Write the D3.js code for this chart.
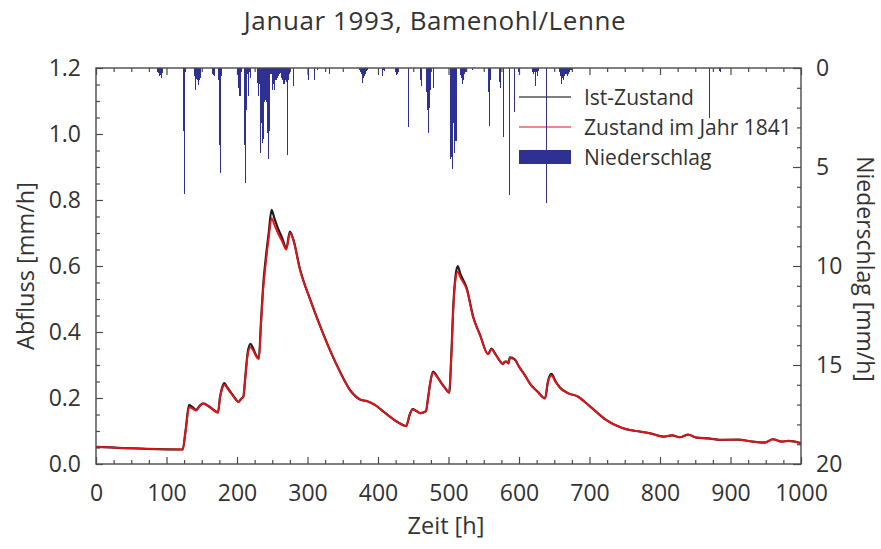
<!DOCTYPE html>
<html>
<head>
<meta charset="utf-8">
<script src="https://cdn.jsdelivr.net/npm/d3@7"></script>
<style>
  body { margin: 0; background: #fff; }
  svg { display: block; font-family: "Open Sans", sans-serif; }
</style>
</head>
<body>
<svg id="chart" width="881" height="549"></svg>
<script>
// Runoff hydrograph, hours since start of January 1993
const hours = [0, 123, 127, 132, 137, 142, 147, 152, 160, 168, 173, 176, 179, 182, 186, 192, 197, 202, 206, 209,
  212, 215, 219, 223, 227, 231, 234, 237, 241, 245, 249, 253, 258, 264, 270, 275, 280, 289, 304, 322,
  335, 346, 360, 375, 385, 395, 410, 431, 440, 445, 449, 455, 460, 468, 471, 474, 478, 484, 490, 496,
  501, 504, 507, 510, 513, 517, 526, 535, 545, 556, 561, 566, 572, 577, 580, 583, 585, 587, 594, 600,
  608, 616, 626, 637, 641, 646, 652, 658, 670, 682, 701, 724, 753, 772, 786, 805, 817, 828, 840, 852,
  871, 885, 911, 928, 949, 960, 973, 982, 1000];

// Abfluss [mm/h], present-day land use
const istZustand = [0.052, 0.044, 0.100, 0.179, 0.172, 0.164, 0.176, 0.184, 0.175, 0.162, 0.156, 0.204, 0.232, 0.245, 0.233, 0.215, 0.200, 0.188, 0.198, 0.204,
  0.270, 0.335, 0.364, 0.350, 0.330, 0.320, 0.430, 0.537, 0.628, 0.700, 0.770, 0.745, 0.715, 0.685, 0.654, 0.704, 0.680, 0.593, 0.497, 0.396,
  0.330, 0.280, 0.225, 0.195, 0.190, 0.180, 0.155, 0.123, 0.115, 0.150, 0.166, 0.160, 0.154, 0.160, 0.200, 0.245, 0.280, 0.265, 0.245, 0.228,
  0.216, 0.330, 0.487, 0.570, 0.600, 0.575, 0.532, 0.446, 0.390, 0.333, 0.350, 0.335, 0.315, 0.303, 0.310, 0.310, 0.305, 0.323, 0.317, 0.295,
  0.270, 0.242, 0.220, 0.199, 0.250, 0.273, 0.250, 0.232, 0.214, 0.206, 0.174, 0.133, 0.105, 0.098, 0.093, 0.083, 0.087, 0.081, 0.089, 0.080,
  0.077, 0.073, 0.074, 0.069, 0.065, 0.075, 0.068, 0.070, 0.063];

// Abfluss [mm/h], land use of 1841
const zustand1841 = [0.052, 0.044, 0.098, 0.172, 0.168, 0.162, 0.175, 0.183, 0.174, 0.161, 0.156, 0.202, 0.228, 0.240, 0.230, 0.213, 0.199, 0.188, 0.197, 0.203,
  0.265, 0.328, 0.354, 0.344, 0.327, 0.318, 0.420, 0.525, 0.612, 0.685, 0.745, 0.725, 0.700, 0.675, 0.650, 0.700, 0.678, 0.592, 0.497, 0.396,
  0.330, 0.280, 0.225, 0.195, 0.190, 0.180, 0.155, 0.123, 0.115, 0.149, 0.165, 0.160, 0.154, 0.160, 0.199, 0.243, 0.277, 0.263, 0.244, 0.227,
  0.216, 0.325, 0.478, 0.560, 0.583, 0.565, 0.528, 0.444, 0.389, 0.333, 0.348, 0.334, 0.315, 0.303, 0.309, 0.309, 0.305, 0.321, 0.316, 0.295,
  0.270, 0.242, 0.220, 0.199, 0.247, 0.268, 0.248, 0.231, 0.214, 0.206, 0.174, 0.133, 0.105, 0.098, 0.093, 0.083, 0.087, 0.081, 0.089, 0.080,
  0.077, 0.073, 0.074, 0.069, 0.065, 0.075, 0.068, 0.070, 0.063];

// Hourly precipitation [mm/h]; hours not listed had none
const rainHours = [87, 88, 89, 90, 91, 92, 93, 94,
  123, 124, 125, 126,
  139, 140, 141, 142, 143, 144, 145, 146, 147, 148,
  164, 165, 166, 167, 168,
  173, 174, 175, 176, 177,
  200, 201, 202, 203, 204, 205,
  210, 211, 212, 213, 214, 215, 216, 217, 218, 219,
  229, 230, 231, 232, 233, 234, 235, 236, 237, 238, 239, 240, 241, 242, 243, 244, 245, 246, 247, 248,
  249, 250, 251, 252, 253, 254, 255, 256, 257, 258, 259, 260, 261, 262, 263, 264, 265, 266, 267, 268,
  269, 270, 271, 272, 273, 274,
  279, 300, 301, 309, 313, 330,
  373, 374, 375, 376, 377, 378, 379, 380, 381, 382, 383, 384, 385,
  405, 407, 408,
  424, 425, 426, 427, 428, 429,
  442, 443,
  459, 460, 461,
  468, 469, 470, 471, 472, 473, 474,
  478,
  502, 503, 504, 505, 506, 507, 508, 509, 510,
  516, 517, 518, 519, 520, 521, 522, 523, 524,
  533,
  556, 557, 558, 559,
  571, 573, 578,
  586, 593, 599,
  619, 620, 621, 622, 623, 624, 625, 626, 627,
  639,
  657, 658, 659, 660, 661, 662, 663, 664, 665, 666, 667, 668, 669, 670, 671, 672, 674,
  870, 884, 885];
const rainValues = [0.2, 0.25, 0.3, 0.4, 0.35, 0.5, 0.25, 0.15,
  0.2, 3.2, 6.35, 0.2,
  0.4, 0.45, 1.1, 0.55, 0.6, 0.85, 0.8, 0.6, 0.5, 0.2,
  0.2, 0.3, 0.35, 0.4, 0.3,
  0.6, 0.8, 3.9, 5.3, 0.4,
  0.3, 0.9, 1.0, 1.4, 1.4, 0.2,
  3.9, 5.8, 2.3, 2.1, 0.3, 0.3, 1.4, 0.2, 0.5, 0.2,
  0.75, 1.4, 0.8, 3.9, 4.3, 2.8, 2.6, 3.8, 3.6, 1.7, 1.7, 1.6, 1.7, 3.3, 2.0, 4.6, 3.2, 3.0, 0.3, 0.3,
  0.5, 1.1, 0.8, 1.0, 1.1, 0.6, 0.6, 0.55, 0.5, 0.4, 0.3, 0.2, 0.25, 0.3, 0.5, 0.6, 0.8, 0.8, 0.7, 0.6,
  0.7, 0.4, 4.4, 0.6, 0.5, 0.3,
  0.9, 0.6, 0.4, 0.6, 0.1, 0.3,
  0.1, 0.15, 0.2, 0.3, 0.45, 0.75, 0.5, 0.4, 0.3, 0.2, 0.15, 0.1, 0.1,
  0.4, 0.1, 0.15,
  0.2, 0.25, 0.35, 0.3, 0.2, 0.1,
  3.0, 1.7,
  0.4, 0.6, 0.9,
  1.2, 2.1, 2.1, 3.3, 2.0, 1.2, 1.1,
  1.0,
  4.6, 4.5, 4.5, 5.1, 2.8, 2.8, 4.3, 3.7, 3.7,
  0.3, 0.35, 0.5, 0.8, 0.6, 0.4, 0.3, 0.2, 0.2,
  0.1,
  1.2, 2.95, 1.5, 0.6,
  0.7, 1.0, 3.5,
  6.4, 2.2, 0.2,
  0.2, 0.3, 0.2, 0.9, 0.3, 0.2, 0.4, 0.2, 0.15,
  6.8,
  0.2, 0.4, 0.3, 0.8, 0.5, 0.6, 0.3, 0.4, 0.3, 0.2, 0.3, 0.4, 0.2, 0.3, 0.2, 0.1, 0.1,
  2.5, 0.15, 0.2];

const timeTicks = [0, 100, 200, 300, 400, 500, 600, 700, 800, 900, 1000];
const flowTicks = [0, 0.2, 0.4, 0.6, 0.8, 1.0, 1.2];
const rainTicks = [0, 5, 10, 15, 20];
const seriesNames = ["Ist-Zustand", "Zustand im Jahr 1841", "Niederschlag"];

const svg = d3.select("#chart");
const L = 96, R = 801, T = 68, B = 464;
const ink = "#333", frameCol = "#4a4a4a";
const blue = "#2e3192", red = "#e3131b", black = "#1e1e1e";

const x = d3.scaleLinear().domain([0, 1000]).range([L, R]);
const y = d3.scaleLinear().domain([0, 1.2]).range([B, T]);
const yr = d3.scaleLinear().domain([0, 20]).range([T, B]);

// Title and axis titles
svg.append("text").attr("x", 435).attr("y", 30).attr("text-anchor", "middle")
  .attr("font-size", 26).attr("letter-spacing", 0.6).attr("fill", ink).text("Januar 1993, Bamenohl/Lenne");
svg.append("text").attr("x", 446).attr("y", 534).attr("text-anchor", "middle")
  .attr("font-size", 23.5).attr("fill", ink).text("Zeit [h]");
svg.append("text").attr("transform", `translate(34,${(T + B) / 2}) rotate(-90)`)
  .attr("text-anchor", "middle").attr("font-size", 23.5).attr("fill", ink).text("Abfluss [mm/h]");
svg.append("text").attr("transform", `translate(857,${(T + B) / 2 + 3}) rotate(90)`)
  .attr("text-anchor", "middle").attr("font-size", 23).attr("fill", ink).text("Niederschlag [mm/h]");

// Axes: major ticks with labels, minor ticks without, all pointing inward
function styleAxis(g) {
  g.select(".domain").remove();
  g.selectAll("line").attr("stroke", frameCol).attr("stroke-width", 1.2);
  g.selectAll("text").attr("fill", ink).attr("font-size", 23).attr("font-family", "Open Sans, sans-serif");
}
const minorTime = d3.range(0, 1001, 25).filter(d => d % 100 !== 0);
const minorFlow = d3.range(0, 1.2001, 0.05).filter(d => Math.abs(d * 5 - Math.round(d * 5)) > 1e-6);
const minorRain = d3.range(0, 21, 1).filter(d => d % 5 !== 0);

svg.append("g").attr("transform", `translate(0,${B})`)
  .call(d3.axisBottom(x).tickValues(timeTicks).tickSize(-7).tickPadding(21).tickFormat(d3.format("d"))).call(styleAxis);
svg.append("g").attr("transform", `translate(0,${B})`)
  .call(d3.axisBottom(x).tickValues(minorTime).tickSize(-4).tickFormat("")).call(styleAxis);
svg.append("g").attr("transform", `translate(0,${T})`)
  .call(d3.axisTop(x).tickValues(timeTicks).tickSize(-7).tickFormat("")).call(styleAxis);
svg.append("g").attr("transform", `translate(0,${T})`)
  .call(d3.axisTop(x).tickValues(minorTime).tickSize(-4).tickFormat("")).call(styleAxis);
svg.append("g").attr("transform", `translate(${L},0)`)
  .call(d3.axisLeft(y).tickValues(flowTicks).tickSize(-7).tickPadding(15).tickFormat(d3.format(".1f"))).call(styleAxis);
svg.append("g").attr("transform", `translate(${L},0)`)
  .call(d3.axisLeft(y).tickValues(minorFlow).tickSize(-4).tickFormat("")).call(styleAxis);
svg.append("g").attr("transform", `translate(${R},0)`)
  .call(d3.axisRight(yr).tickValues(rainTicks).tickSize(-8).tickPadding(15).tickFormat(d3.format("d"))).call(styleAxis);
svg.append("g").attr("transform", `translate(${R},0)`)
  .call(d3.axisRight(yr).tickValues(minorRain).tickSize(-4).tickFormat("")).call(styleAxis);

// Runoff lines
const line = d3.line().x((d, i) => x(hours[i])).y(d => y(d)).curve(d3.curveMonotoneX);
svg.append("path").datum(istZustand).attr("d", line)
  .attr("fill", "none").attr("stroke", black).attr("stroke-width", 2.2).attr("stroke-linejoin", "round");
svg.append("path").datum(zustand1841).attr("d", line)
  .attr("fill", "none").attr("stroke", red).attr("stroke-width", 1.9).attr("stroke-linejoin", "round");

// Legend
const lg = svg.append("g");
const legendY = [97, 127, 157];
lg.append("line").attr("x1", 519).attr("x2", 571).attr("y1", legendY[0]).attr("y2", legendY[0])
  .attr("stroke", "#555").attr("stroke-width", 1.5);
lg.append("line").attr("x1", 519).attr("x2", 571).attr("y1", legendY[1]).attr("y2", legendY[1])
  .attr("stroke", red).attr("stroke-width", 1.2);
lg.append("rect").attr("x", 519).attr("width", 52).attr("y", legendY[2] - 7).attr("height", 14).attr("fill", blue);
lg.selectAll("text.lbl").data(seriesNames).join("text").attr("class", "lbl")
  .attr("x", 584).attr("y", (d, i) => legendY[i] + 8)
  .attr("font-size", 21).attr("fill", ink).text(d => d);

// Precipitation bars hanging from the top axis
const barW = Math.max(1, x(1) - x(0));
svg.append("g").attr("shape-rendering", "crispEdges").selectAll("rect")
  .data(rainHours.map((h, i) => ({ h, v: rainValues[i] })))
  .join("rect")
  .attr("x", d => x(d.h))
  .attr("y", yr(0))
  .attr("width", barW)
  .attr("height", d => yr(d.v) - yr(0))
  .attr("fill", blue);

// Frame
svg.append("rect").attr("x", L).attr("y", T).attr("width", R - L).attr("height", B - T)
  .attr("fill", "none").attr("stroke", frameCol).attr("stroke-width", 1.4);
</script>
</body>
</html>
